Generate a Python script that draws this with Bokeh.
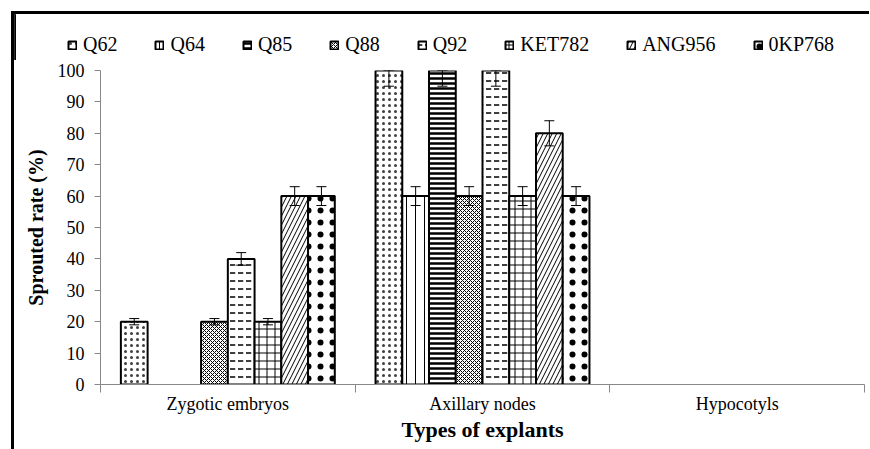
from bokeh.plotting import figure
from bokeh.layouts import column
from bokeh.models import (ColumnDataSource, Legend, LegendItem, FixedTicker,
                          Whisker, TeeHead, Range1d)
from bokeh.embed import file_html
from bokeh.resources import INLINE

categories = ["Zygotic embryos", "Axillary nodes", "Hypocotyls"]
series = ["Q62", "Q64", "Q85", "Q88", "Q92", "KET782", "ANG956", "0KP768"]
values = {
    "Q62":    [20, 100, 0],
    "Q64":    [0, 60, 0],
    "Q85":    [0, 100, 0],
    "Q88":    [20, 60, 0],
    "Q92":    [40, 100, 0],
    "KET782": [20, 60, 0],
    "ANG956": [60, 80, 0],
    "0KP768": [60, 60, 0],
}
errors = {
    "Q62":    [1, 5, 0],
    "Q64":    [0, 3, 0],
    "Q85":    [0, 5, 0],
    "Q88":    [1, 3, 0],
    "Q92":    [2, 5, 0],
    "KET782": [1, 3, 0],
    "ANG956": [3, 4, 0],
    "0KP768": [3, 3, 0],
}
y_ticks = list(range(0, 101, 10))

hatch = {
    "Q62":    dict(hatch_pattern="dot", hatch_scale=6, hatch_weight=1, hatch_alpha=0.75),
    "Q64":    dict(hatch_pattern="vertical_line", hatch_scale=9, hatch_weight=1),
    "Q85":    dict(hatch_pattern="horizontal_line", hatch_scale=5, hatch_weight=2.5),
    "Q88":    dict(hatch_pattern="diagonal_cross", hatch_scale=4, hatch_weight=1),
    "Q92":    dict(hatch_pattern="horizontal_dash", hatch_scale=8, hatch_weight=1.5),
    "KET782": dict(hatch_pattern="cross", hatch_scale=8, hatch_weight=1),
    "ANG956": dict(hatch_pattern="right_diagonal_line", hatch_scale=9, hatch_weight=1),
    "0KP768": dict(hatch_pattern="dot", hatch_scale=12, hatch_weight=1),
}

FONT = "Liberation Serif"
W = 855

# legend strip on top
pl = figure(width=W, height=46, output_backend="svg", toolbar_location=None,
            x_range=Range1d(0, 1), y_range=Range1d(0, 1),
            x_axis_type=None, y_axis_type=None, min_border=0)
pl.outline_line_color = None
pl.grid.visible = False
pl.frame_align = False

p = figure(width=W, height=389, output_backend="svg", toolbar_location=None,
           x_range=Range1d(0, 3), y_range=Range1d(0, 100),
           min_border_left=86, min_border_right=5, min_border_top=10,
           min_border_bottom=65)
p.outline_line_color = None
p.grid.visible = False
p.frame_align = False

n = len(series)
bw = 0.105
items = []
for i, s in enumerate(series):
    xs, tops, lo, hi = [], [], [], []
    for j, c in enumerate(categories):
        v = values[s][j]
        if v > 0:
            xs.append(j + 0.5 + (i - (n - 1) / 2) * bw)
            tops.append(v)
            lo.append(v - errors[s][j])
            hi.append(min(v + errors[s][j], 100))
    src = ColumnDataSource(dict(x=xs, top=tops, lower=lo, upper=hi))
    style = dict(fill_color="white", line_color="black", line_width=2,
                 hatch_color="black", **hatch[s])
    p.vbar(x="x", top="top", width=bw, source=src, **style)
    # legend swatch renderer (kept outside the strip's visible range)
    dummy = pl.vbar(x=[-5], top=[1], width=bw, **style)
    items.append(LegendItem(label=s, renderers=[dummy]))
    w = Whisker(base="x", lower="lower", upper="upper", source=src,
                line_color="black", line_width=1, level="overlay",
                upper_head=TeeHead(size=10, line_color="black", line_width=1),
                lower_head=TeeHead(size=10, line_color="black", line_width=1))
    p.add_layout(w)

legend = Legend(items=items, orientation="horizontal", location=(53, 4),
                glyph_width=10, glyph_height=10, label_standoff=6, spacing=37,
                label_height=19,
                label_text_font=FONT, label_text_font_size="20px",
                label_text_color="black",
                border_line_color=None, background_fill_alpha=0,
                padding=0, margin=0)
pl.add_layout(legend, "center")

ax = p.yaxis[0]
ax.ticker = FixedTicker(ticks=y_ticks, minor_ticks=[])
ax.axis_line_color = "#888888"
ax.major_tick_line_color = "#888888"
ax.major_tick_out = 6
ax.major_tick_in = 0
ax.major_label_text_font = FONT
ax.major_label_text_font_size = "18px"
ax.major_label_text_color = "black"
ax.major_label_standoff = 10
ax.axis_label = "Sprouted rate (%)"
ax.axis_label_text_font = FONT
ax.axis_label_text_font_size = "20px"
ax.axis_label_text_font_style = "bold"
ax.axis_label_text_color = "black"
ax.axis_label_standoff = 8

bx = p.xaxis[0]
bx.ticker = FixedTicker(ticks=[j + 0.5 for j in range(len(categories))],
                        minor_ticks=list(range(len(categories) + 1)))
bx.major_label_overrides = {j + 0.5: c for j, c in enumerate(categories)}
bx.axis_line_color = "#888888"
bx.major_tick_line_color = None
bx.major_tick_out = 0
bx.major_tick_in = 0
bx.minor_tick_line_color = "#888888"
bx.minor_tick_out = 8
bx.minor_tick_in = 0
bx.major_label_text_font = FONT
bx.major_label_text_font_size = "18px"
bx.major_label_text_color = "black"
bx.major_label_standoff = 1
bx.axis_label = "Types of explants"
bx.axis_label_text_font = FONT
bx.axis_label_text_font_size = "22px"
bx.axis_label_text_font_style = "bold"
bx.axis_label_text_color = "black"
bx.axis_label_standoff = 0

root = column(pl, p, spacing=0,
              styles={"border-top": "3px solid black",
                      "border-left": "3px solid black"})
root.margin = (11, 0, 0, 11)

open("out.html", "w").write(file_html(root, INLINE))
